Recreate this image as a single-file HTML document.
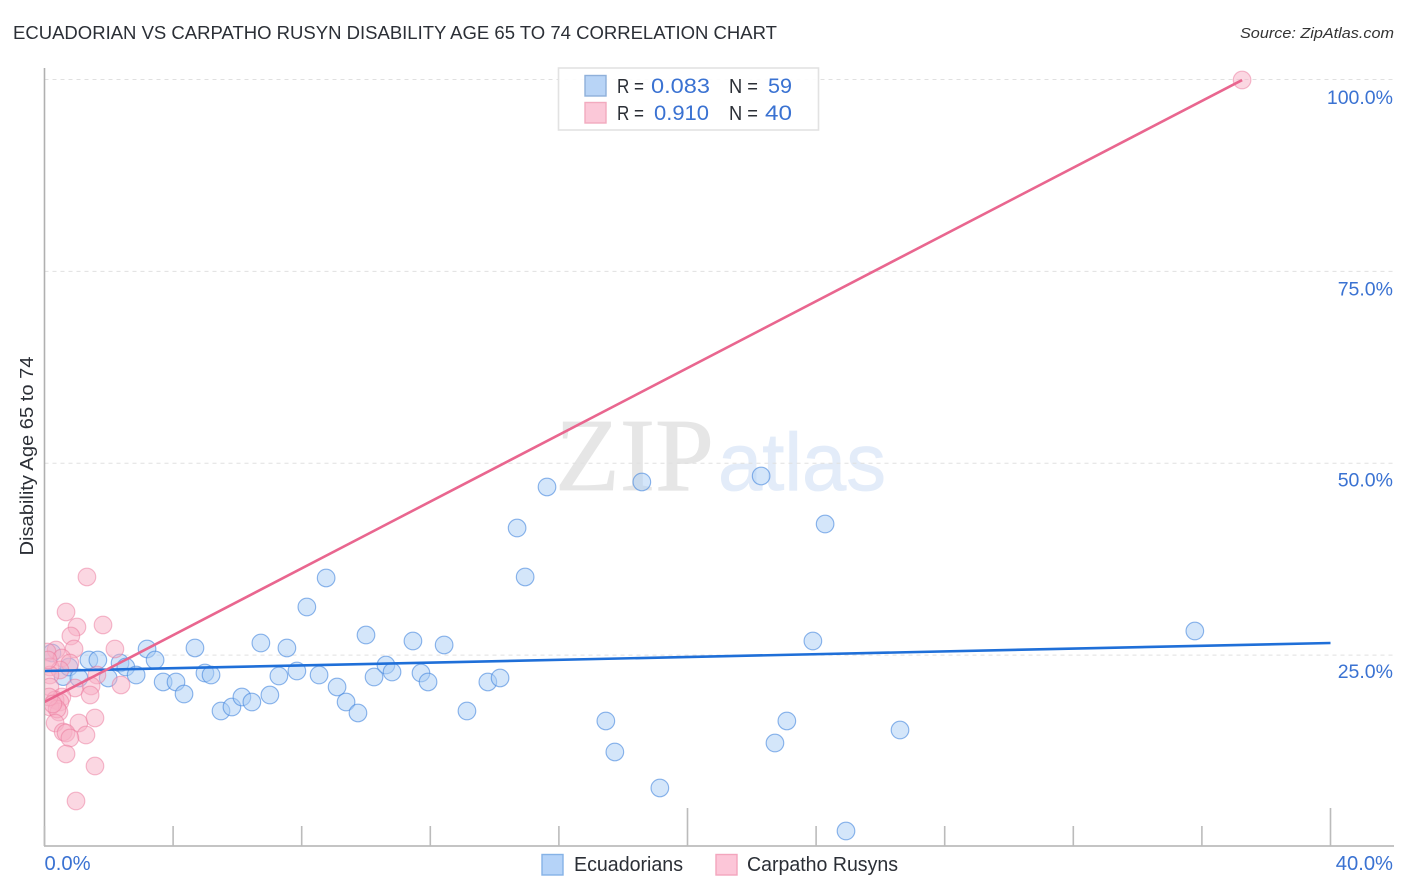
<!DOCTYPE html>
<html lang="en">
<head>
<meta charset="utf-8">
<title>Ecuadorian vs Carpatho Rusyn Disability Age 65 to 74 Correlation Chart</title>
<style>
html,body{margin:0;padding:0;background:#fff;width:1406px;height:892px;overflow:hidden}
svg{display:block;font-family:"Liberation Sans",sans-serif}
.soft{filter:blur(0.3px)}
</style>
</head>
<body>
<svg id="chart" xmlns="http://www.w3.org/2000/svg" width="1406" height="892" viewBox="0 0 1406 892">
  <defs>
    <clipPath id="plot-clip"><rect x="45" y="60" width="1349" height="786"/></clipPath>
  </defs>
  <text x="13" y="39" font-size="18.5" fill="#2b2f36" textLength="764" lengthAdjust="spacingAndGlyphs">ECUADORIAN VS CARPATHO RUSYN DISABILITY AGE 65 TO 74 CORRELATION CHART</text>
  <text x="1394" y="38" font-size="15" font-style="italic" fill="#333" text-anchor="end" textLength="154" lengthAdjust="spacingAndGlyphs">Source: ZipAtlas.com</text>
  <text x="555" y="490" font-family="'Liberation Serif',serif" font-size="104" fill="#e6e6e6" stroke="#e6e6e6" stroke-width="0.8" textLength="159" lengthAdjust="spacingAndGlyphs">ZIP</text>
  <text x="718" y="490" font-size="82" fill="#e3ecf9" stroke="#e3ecf9" stroke-width="0.8" textLength="168" lengthAdjust="spacingAndGlyphs">atlas</text>
  <g id="grid"></g>
  <g id="axes">
    <line x1="44.5" y1="68" x2="44.5" y2="846" stroke="#b0b0b0" stroke-width="1.6"/>
    <line x1="44" y1="846" x2="1394" y2="846" stroke="#b0b0b0" stroke-width="1.6"/>
  </g>
  <g id="xticks"></g>
  <g clip-path="url(#plot-clip)">
    <g class="soft">
      <g id="points-blue"></g>
      <g id="points-pink"></g>
    </g>
    <g id="trends"></g>
  </g>
  <g id="ylabels"></g>
  <g id="xlabels"></g>
  <text transform="translate(33,456) rotate(-90)" font-size="18" fill="#2b2f36" text-anchor="middle" textLength="199" lengthAdjust="spacingAndGlyphs">Disability Age 65 to 74</text>

  <g>
    <rect x="558.5" y="68" width="260" height="62" fill="#fff" fill-opacity="0.9" stroke="#e2e2e2" stroke-width="1.6"/>
    <rect x="585" y="75.5" width="21" height="20.5" fill="#b8d4f6" stroke="#8fb0da" stroke-width="1.4"/>
    <rect x="585" y="102.5" width="21" height="20.5" fill="#fbc8d8" stroke="#f2aabf" stroke-width="1.4"/>
    <text x="617" y="93" font-size="20" fill="#2b2f36" textLength="27" lengthAdjust="spacingAndGlyphs">R =</text>
    <text x="710" y="93" font-size="21.5" fill="#3a72d2" text-anchor="end" textLength="59" lengthAdjust="spacingAndGlyphs">0.083</text>
    <text x="729" y="93" font-size="20" fill="#2b2f36" textLength="29" lengthAdjust="spacingAndGlyphs">N =</text>
    <text x="792" y="93" font-size="21.5" fill="#3a72d2" text-anchor="end" textLength="24" lengthAdjust="spacingAndGlyphs">59</text>
    <text x="617" y="120" font-size="20" fill="#2b2f36" textLength="27" lengthAdjust="spacingAndGlyphs">R =</text>
    <text x="709" y="120" font-size="21.5" fill="#3a72d2" text-anchor="end" textLength="55" lengthAdjust="spacingAndGlyphs">0.910</text>
    <text x="729" y="120" font-size="20" fill="#2b2f36" textLength="29" lengthAdjust="spacingAndGlyphs">N =</text>
    <text x="792" y="120" font-size="21.5" fill="#3a72d2" text-anchor="end" textLength="27" lengthAdjust="spacingAndGlyphs">40</text>
  </g>

  <g>
    <rect x="542" y="854.5" width="21" height="20.5" fill="#b5d3f8" stroke="#85b2e6" stroke-width="1.4"/>
    <text x="574" y="871" font-size="20" fill="#2b2f36" textLength="109" lengthAdjust="spacingAndGlyphs">Ecuadorians</text>
    <rect x="716" y="854.5" width="21" height="20.5" fill="#fcc6d8" stroke="#f3a5bd" stroke-width="1.4"/>
    <text x="747" y="871" font-size="20" fill="#2b2f36" textLength="151" lengthAdjust="spacingAndGlyphs">Carpatho Rusyns</text>
  </g>
</svg>
<script>
const ecuadorianX = [0.23,0.58,0.76,1.07,1.38,1.66,1.98,2.35,2.53,2.85,3.19,3.44,3.69,4.09,4.34,4.68,4.99,5.18,5.49,5.83,6.14,6.45,6.73,7.01,7.29,7.54,7.85,8.16,8.54,8.76,9.10,9.38,9.75,10.00,10.25,10.62,10.81,11.46,11.71,11.93,12.43,13.14,13.79,14.17,14.70,14.95,15.63,17.46,17.74,18.58,19.14,22.29,22.72,23.09,23.90,24.28,24.93,26.61,35.78];
const ecuadorianY = [25.28,22.2,23.45,22.02,24.36,24.36,22.02,23.97,23.45,22.41,25.80,24.36,21.50,21.50,19.93,25.93,22.67,22.41,17.72,18.24,19.54,18.89,26.58,19.80,22.28,25.93,22.93,31.27,22.41,35.05,20.85,18.89,17.46,27.62,22.15,23.71,22.80,26.84,22.67,21.50,26.32,17.72,21.50,22.02,41.56,35.18,46.91,16.42,12.38,47.56,7.69,48.34,13.55,16.42,26.84,42.08,2.08,15.24,28.14];
const rusynX = [1.32,0.67,1.01,1.82,0.82,0.92,2.19,0.36,0.08,0.54,0.17,0.79,0.48,1.63,0.17,2.38,0.95,1.45,0.17,1.42,0.54,0.33,0.48,0.17,0.45,0.39,0.33,1.07,1.57,0.58,0.67,1.29,0.79,0.67,1.57,0.98,37.25,0.11,0.14,0.26];
const rusynY = [35.18,30.62,28.66,28.93,27.49,25.80,25.80,25.67,25.41,24.63,23.45,23.97,23.06,22.41,22.41,21.11,20.72,20.98,20.85,19.80,19.54,19.15,18.89,18.24,17.59,17.98,16.16,16.16,16.81,14.98,14.85,14.59,14.20,12.12,10.55,5.99,99.93,24.36,19.54,18.63];
const ecuadorianTrendX = [0,40];
const ecuadorianTrendY = [22.93,26.58];
const rusynTrendX = [0,37.25];
const rusynTrendY = [18.9,99.93];
const yTickValues = [25,50,75,100];
const yTickLabels = ["25.0%","50.0%","75.0%","100.0%"];
const xTickValues = [0,4,8,12,16,20,24,28,32,36,40];
const xMajorTicks = [20,40];
const xEndValues = [0,40];
const xEndLabels = ["0.0%","40.0%"];

const NS = "http://www.w3.org/2000/svg";
function xScale(v){ return 44.5 + v * 32.15; }
function yScale(v){ return 847 - v * 7.675; }
function yLabelBase(v){ return 678 - (v - 25) * 7.653; }
function make(tag, attrs, parent){
  const el = document.createElementNS(NS, tag);
  for (const k in attrs) el.setAttribute(k, attrs[k]);
  document.getElementById(parent).appendChild(el);
  return el;
}

yTickValues.forEach(function(v, i){
  const g = make("line", {x1:44.5, x2:1394, y1:yScale(v), y2:yScale(v), stroke:"#e0e0e0", "stroke-width":1, "stroke-dasharray":"4 4"}, "grid");
  
  
  const t = make("text", {x:1393, y:yLabelBase(v), "font-size":19.5, fill:"#3a72d2", "text-anchor":"end"}, "ylabels");
  
  
  t.textContent = yTickLabels[i];
});

xTickValues.forEach(function(v){
  const top = xMajorTicks.indexOf(v) >= 0 ? 808 : 826;
  const tk = make("line", {x1:xScale(v), x2:xScale(v), y1:top, y2:846, stroke:"#bbbbbb", "stroke-width":1.6}, "xticks");
  
  
});

xEndValues.forEach(function(v, i){
  const first = i === 0;
  const t = make("text", {x:first ? xScale(v) : 1393, y:870, "font-size":20.2, fill:"#3a72d2", "text-anchor":first ? "start" : "end"}, "xlabels");
  
  
  t.textContent = xEndLabels[i];
});

ecuadorianX.forEach(function(v, i){
  const c = make("circle", {cx:xScale(v), cy:yScale(ecuadorianY[i]), r:8.8, fill:"rgba(170,205,245,0.5)", stroke:"rgba(66,133,222,0.6)", "stroke-width":1.15}, "points-blue");
  
  
});

rusynX.forEach(function(v, i){
  const c = make("circle", {cx:xScale(v), cy:yScale(rusynY[i]), r:8.8, fill:"rgba(248,175,197,0.5)", stroke:"rgba(236,120,155,0.5)", "stroke-width":1.15}, "points-pink");
  
  
});

const blueTrend = make("line", {x1:xScale(ecuadorianTrendX[0]), y1:yScale(ecuadorianTrendY[0]), x2:xScale(ecuadorianTrendX[1]), y2:yScale(ecuadorianTrendY[1]), stroke:"#1f6fd8", "stroke-width":2.6}, "trends");



const pinkTrend = make("line", {x1:xScale(rusynTrendX[0]), y1:yScale(rusynTrendY[0]), x2:xScale(rusynTrendX[1]), y2:yScale(rusynTrendY[1]), stroke:"#e9668f", "stroke-width":2.6}, "trends");


</script>
</body>
</html>
